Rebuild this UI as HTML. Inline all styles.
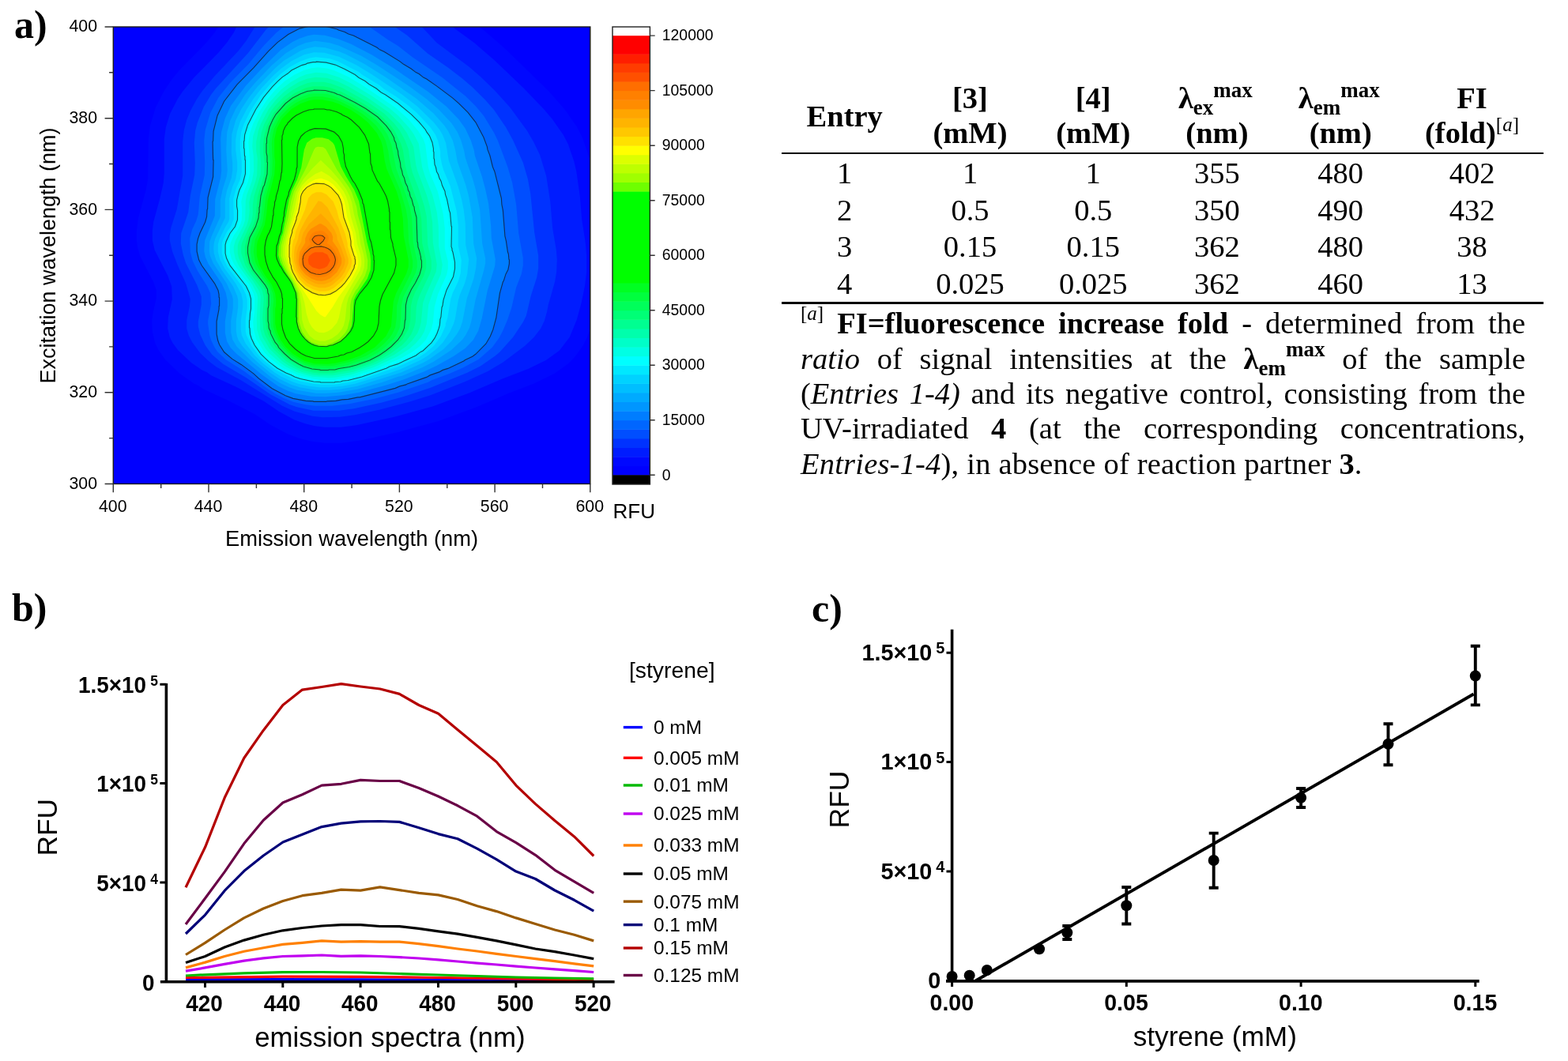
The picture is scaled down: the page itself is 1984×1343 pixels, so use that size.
<!DOCTYPE html>
<html><head><meta charset="utf-8"><title>Figure</title>
<style>
html,body{margin:0;padding:0;background:#fff;}
body{width:1984px;height:1343px;position:relative;overflow:hidden;}
svg{position:absolute;left:0;top:0;}
svg text{font-family:'Liberation Sans', Arial, sans-serif;fill:#000;}
svg text.sf{font-family:'Liberation Serif', 'Times New Roman', serif;}
.tb{position:absolute;}
.fn{position:absolute;left:1013px;width:917px;font-family:'Liberation Serif', 'Times New Roman', serif;font-size:38.5px;line-height:0;white-space:nowrap;color:#000;}
.fn.j{text-align:justify;text-align-last:justify;white-space:normal;}
.fn .sup{font-size:25px;position:relative;top:-17px;}
.fn .sub{font-size:27px;position:relative;top:8px;}
.fn .sup2{font-size:27px;position:relative;top:-16px;}
</style></head><body>
<svg width="1984" height="1343" viewBox="0 0 1984 1343">
<defs><clipPath id="pc"><rect x="143.3" y="34.0" width="603.5" height="578.5"/></clipPath></defs>
<g clip-path="url(#pc)"><rect x="143" y="34" width="604" height="579" fill="#0000ff"/>
<path fill="#0008ff" fill-rule="evenodd" d="M293.8 0.2 283.8 18.8 278.8 30.8 271.2 41.8 260.8 54.2 226.2 89.8 217.2 100.8 207.8 114.8 196.8 136.2 189.8 159.8 187.8 175.8 187.2 226.2 184.8 239.8 174.8 276.8 172.8 292.2 172.8 304.2 174.2 313.8 177.2 324.2 193.8 356.2 197.8 367.2 197.8 377.2 193.8 394.8 192.2 405.8 192.8 419.8 196.2 434.2 201.2 444.2 209.2 455.2 227.2 472.8 245.8 485.8 251.2 488.2 256.8 492.2 291.2 508.2 323.2 524.8 342.2 537.8 364.8 549.8 380.2 555.2 394.2 558.8 410.8 560.8 431.8 560.8 454.8 557.8 502.8 547.2 554.2 533.2 601.8 515.8 643.8 497.8 676.2 485.2 701.8 472.8 719.8 459.8 728.2 450.8 737.8 437.2 742.8 427.2 748.8 410.8 755.2 386.8 759.8 364.8 762.2 344.2 761.8 316.8 756.2 277.8 754.2 252.2 749.2 215.2 746.2 201.2 737.2 174.8 729.8 160.2 714.8 138.8 694.2 115.2 638.2 60.8 612.2 38.2 590.2 22.8 585.8 18.2 579.2 6.8 574.2 0.2Z"/>
<path fill="#001cff" fill-rule="evenodd" d="M318.8 1.2 308.2 14.2 295.8 41.2 287.2 53.8 276.8 66.2 245.8 97.8 230.8 116.2 224.8 125.2 215.2 143.8 209.8 161.2 207.8 175.8 207.8 218.8 206.8 231.2 202.2 251.8 194.2 280.8 192.8 292.2 192.8 304.2 195.8 316.8 212.2 348.8 217.2 362.8 217.8 378.8 212.8 401.8 212.2 415.8 214.8 426.8 218.2 433.8 225.2 443.2 242.2 459.2 256.2 468.8 261.8 471.2 267.2 475.2 298.8 489.8 333.8 507.8 352.8 520.8 372.2 531.2 386.2 536.2 398.2 539.2 410.8 540.8 431.8 540.8 450.8 538.2 498.8 527.8 548.2 514.2 594.2 497.2 636.2 479.2 668.8 466.8 691.2 455.8 707.8 443.8 720.8 426.8 729.8 404.8 735.8 382.8 740.2 360.8 742.2 344.2 742.2 323.8 740.8 307.2 736.2 277.8 733.8 248.2 729.2 216.2 726.2 203.8 718.8 182.2 712.8 170.8 698.8 150.8 688.2 138.2 662.8 111.8 626.2 76.8 600.2 54.2 574.8 35.8 568.2 28.2 558.2 11.8 545.8 0.2 320.2 0.2Z"/>
<path fill="#0032ff" fill-rule="evenodd" d="M348.8 0.2 345.2 7.2 340.8 13.2 326.8 27.2 311.8 51.2 301.8 64.2 271.2 96.8 256.2 114.8 248.8 125.8 241.2 139.8 236.2 151.8 232.8 164.8 231.2 178.8 231.2 222.2 223.8 264.8 216.2 288.8 214.8 297.2 214.8 304.2 218.2 318.8 224.8 335.8 235.2 358.8 240.8 378.8 239.8 388.2 236.2 405.2 236.2 415.8 238.8 424.8 243.2 433.2 253.2 446.8 264.2 457.2 274.2 464.8 304.8 481.2 357.2 513.8 372.8 520.8 395.2 526.8 408.2 528.2 430.2 527.8 448.8 525.2 479.8 518.8 519.2 508.2 544.8 500.2 588.2 483.2 617.8 469.8 636.2 458.8 664.2 437.8 675.8 426.8 684.2 415.8 688.8 406.2 692.2 394.2 693.8 385.8 702.2 356.2 704.2 343.8 704.8 328.2 703.8 316.2 699.2 289.2 696.2 254.8 691.2 222.8 683.2 196.2 675.2 179.8 666.8 165.2 645.2 135.8 626.2 114.8 608.2 97.2 593.8 84.8 552.8 54.2 530.8 30.8 521.2 23.8 515.2 17.8 510.2 11.2 504.8 0.2Z"/>
<path fill="#004eff" fill-rule="evenodd" d="M377.2 0.2 336.8 37.2 313.8 67.2 272.8 112.2 266.8 120.2 257.8 135.2 249.8 155.2 247.2 165.2 245.8 180.8 246.8 206.8 246.2 221.2 240.8 247.8 238.2 268.8 229.2 295.2 228.8 308.2 231.8 322.8 235.2 333.2 249.2 360.8 254.8 375.2 254.8 385.8 250.8 406.8 250.8 413.2 253.2 423.2 259.8 437.2 268.2 448.8 282.2 460.8 311.8 478.2 342.2 499.2 366.8 512.2 375.8 515.2 396.8 519.8 429.2 519.8 447.8 517.2 482.2 509.8 514.8 500.8 544.8 490.8 591.2 471.8 608.2 463.2 626.2 450.8 632.2 445.8 649.2 426.8 661.8 407.8 665.8 399.8 671.8 374.2 679.2 351.2 681.2 339.8 681.2 323.8 676.2 294.2 671.2 244.8 667.8 226.2 661.8 205.8 649.2 177.8 640.2 161.2 625.2 139.2 613.8 126.2 598.2 110.8 584.8 99.2 567.2 85.8 541.2 67.8 515.2 44.8 500.2 34.2 478.2 13.8 466.2 0.2Z"/>
<path fill="#0066ff" fill-rule="evenodd" d="M430.2 12.8 410.2 12.8 393.8 15.8 374.2 24.2 357.2 35.2 349.8 41.2 334.2 57.2 313.8 81.8 290.8 105.2 276.2 123.8 266.2 142.8 259.8 164.2 258.2 178.2 259.2 205.2 258.8 221.8 252.8 248.2 250.8 271.2 248.2 279.8 243.2 290.2 240.2 301.8 240.8 319.2 243.8 330.2 250.2 343.2 262.2 362.2 266.2 371.2 267.2 384.2 263.2 405.8 263.2 410.2 265.2 424.2 267.2 430.8 271.2 439.2 275.2 445.2 285.8 455.2 308.8 469.8 338.8 492.2 349.2 498.8 359.8 504.2 371.2 508.8 386.8 512.2 398.8 513.8 419.8 513.8 441.8 511.2 473.8 504.8 503.8 496.8 541.8 483.8 546.2 481.2 569.2 472.8 586.2 465.2 605.8 454.8 622.8 439.8 631.8 427.2 636.2 418.8 642.2 404.8 647.2 389.8 653.2 363.8 659.8 346.8 661.8 336.2 661.8 326.2 656.2 295.2 653.2 259.2 648.2 231.2 642.2 210.8 629.8 177.8 625.2 168.2 612.2 146.8 601.8 134.2 589.2 121.8 559.8 98.2 521.8 72.2 503.2 57.8 490.8 50.2 470.8 36.2 444.8 19.8 433.2 13.2Z"/>
<path fill="#007dff" fill-rule="evenodd" d="M395.2 32.2 379.2 36.2 364.8 43.8 351.2 53.8 339.8 64.8 320.8 86.2 300.2 106.8 283.8 128.2 275.2 146.2 270.2 166.2 269.2 179.2 270.2 202.8 269.8 223.8 263.2 250.2 261.8 274.2 259.8 281.2 250.8 301.8 249.2 309.2 249.2 318.2 251.8 328.8 255.2 335.8 271.8 358.8 276.2 367.8 277.8 376.8 277.8 387.2 274.2 406.8 274.2 422.8 277.8 436.2 283.8 445.8 293.8 454.2 305.2 461.2 320.8 472.8 344.2 491.8 361.2 500.8 370.8 504.2 386.8 507.2 396.8 508.2 413.2 508.2 455.2 502.8 500.2 491.2 539.8 477.2 544.2 474.8 566.8 466.2 587.2 456.8 601.8 448.2 614.8 435.2 619.2 427.8 623.8 417.2 627.8 401.8 632.2 371.2 636.2 356.8 642.8 341.2 644.2 328.8 638.8 298.8 634.2 251.2 625.8 217.2 623.2 211.2 616.2 185.8 611.8 173.8 601.8 154.8 591.8 142.2 572.8 124.2 552.8 109.2 505.8 77.8 476.8 60.2 447.2 45.2 426.8 37.2 409.2 32.8Z"/>
<path fill="#0096ff" fill-rule="evenodd" d="M397.2 43.8 389.2 45.2 378.8 48.8 369.8 53.2 355.2 63.2 331.2 86.8 310.8 108.8 292.2 133.8 284.8 149.8 280.2 166.8 279.2 175.8 280.2 216.2 279.2 224.8 272.2 252.2 271.8 273.2 259.2 304.2 258.2 317.2 259.8 325.2 263.8 334.2 280.8 359.2 285.8 370.8 287.8 380.8 287.8 388.8 284.8 406.8 284.8 421.2 287.2 432.2 291.8 440.2 299.2 447.8 330.8 473.8 351.8 488.8 364.2 494.8 374.2 498.2 393.8 501.8 411.8 502.2 434.2 500.2 454.2 496.8 487.8 487.8 509.8 480.8 536.8 470.2 552.8 462.8 574.2 450.8 588.8 440.8 598.8 430.2 605.2 418.8 609.8 402.8 616.8 367.8 626.2 336.8 626.8 328.2 621.8 301.2 621.2 286.2 618.2 258.2 614.2 239.8 609.8 223.2 600.8 196.8 599.8 190.2 595.8 177.8 588.8 162.8 580.2 150.8 564.8 134.8 541.2 115.8 497.2 85.8 470.2 69.2 444.2 55.8 427.8 49.2 411.2 44.8Z"/>
<path fill="#00aaff" fill-rule="evenodd" d="M399.2 51.8 386.8 54.2 376.8 58.2 361.8 67.2 343.8 82.8 322.8 104.8 310.2 119.8 298.2 137.8 291.2 152.8 287.2 167.8 286.2 189.2 287.8 215.8 286.8 223.2 281.8 239.2 278.8 253.2 278.8 274.2 267.8 298.8 265.2 306.2 264.8 317.8 265.8 323.8 269.8 333.2 286.8 358.8 293.8 374.2 294.8 378.8 294.8 390.2 292.2 406.2 292.2 420.8 294.2 429.8 299.2 438.2 319.2 458.2 343.2 477.8 354.2 484.8 365.8 490.2 375.8 493.8 399.8 497.8 412.8 497.8 427.8 496.8 452.2 492.8 484.2 483.8 503.8 476.8 508.8 475.8 534.2 465.2 548.8 457.8 570.8 443.2 584.8 430.2 589.2 424.2 593.8 415.2 596.2 407.2 601.8 378.8 612.2 342.2 614.2 333.2 614.2 327.2 610.2 308.2 607.2 265.8 602.2 241.2 598.2 226.8 588.8 199.8 587.2 190.8 583.2 177.2 578.8 167.2 571.2 155.8 554.8 138.2 540.2 125.8 517.2 108.8 476.8 82.2 457.2 70.8 428.8 57.8 417.2 54.2Z"/>
<path fill="#00beff" fill-rule="evenodd" d="M398.2 59.2 388.2 61.2 380.2 64.2 359.2 76.8 348.2 86.2 326.2 109.2 314.8 123.8 305.2 138.2 298.2 152.2 293.2 170.2 292.8 193.8 294.2 206.2 294.2 215.8 292.8 225.2 287.2 240.8 284.8 252.2 284.8 275.8 272.2 302.2 270.8 307.8 270.2 314.8 270.8 320.8 273.2 328.8 280.8 342.2 294.8 362.2 300.2 374.8 301.2 379.2 301.2 389.2 298.8 406.2 298.8 418.8 299.8 425.2 301.8 430.8 306.8 438.2 318.2 451.2 327.8 460.2 341.8 471.8 353.8 479.8 368.2 486.8 379.2 490.2 400.2 493.8 417.2 493.8 429.8 492.8 452.2 488.8 506.8 471.8 535.2 459.2 543.2 454.8 560.8 442.2 571.8 431.2 578.2 422.8 582.2 415.8 585.2 406.8 590.8 377.8 599.2 353.2 602.2 339.2 603.2 327.2 599.2 308.8 597.8 275.2 593.2 248.8 589.2 233.8 578.8 204.8 576.2 190.2 572.8 177.8 567.2 166.2 562.2 158.8 548.8 143.8 526.8 124.8 488.8 98.2 460.8 80.8 437.8 68.8 429.2 65.2 411.2 60.2Z"/>
<path fill="#00d2ff" fill-rule="evenodd" d="M397.2 66.2 384.8 69.2 368.8 77.2 355.8 86.8 345.8 95.8 331.2 111.2 320.8 124.8 311.8 138.8 303.8 154.2 299.8 166.8 298.2 177.2 298.2 189.2 300.2 205.8 300.2 215.2 298.2 226.8 294.2 236.2 290.2 251.2 290.2 277.2 289.2 280.8 284.8 287.8 277.8 302.2 275.8 309.2 275.8 318.8 278.2 328.2 284.2 339.8 298.2 358.8 305.2 371.8 307.2 380.8 307.2 388.8 304.8 406.2 304.8 417.2 305.8 424.2 310.8 434.8 322.2 449.8 333.2 460.2 347.2 471.2 355.2 476.2 368.8 482.8 377.2 485.8 391.2 488.8 404.2 490.2 416.2 490.2 433.2 488.8 449.2 485.8 492.8 472.2 506.8 467.2 532.2 455.8 541.2 450.2 552.2 441.8 560.2 433.8 569.2 420.2 573.8 410.2 575.8 403.8 579.8 380.2 581.8 373.2 588.2 358.2 591.2 347.2 593.2 328.2 589.2 309.8 588.8 283.2 586.8 265.8 583.8 251.2 579.8 236.2 567.8 203.2 564.2 181.2 559.8 170.2 556.2 164.2 549.2 155.2 528.2 134.8 508.8 119.8 469.8 93.8 450.8 82.2 428.8 71.8 410.2 66.8Z"/>
<path fill="#00e8ff" fill-rule="evenodd" d="M399.8 72.2 390.8 73.8 379.8 77.8 366.8 84.8 354.2 94.2 341.2 107.2 328.8 122.2 316.2 141.8 308.8 156.8 305.2 167.2 303.8 177.8 303.8 188.8 305.8 204.2 305.8 217.8 303.8 227.2 298.8 238.8 295.2 251.8 295.8 277.2 292.2 286.8 287.2 293.2 282.2 303.8 280.8 308.8 280.8 320.2 282.8 327.8 287.8 337.8 306.2 362.2 311.2 372.8 312.8 379.8 312.8 389.8 310.8 404.2 310.8 419.2 311.8 424.2 318.2 437.8 327.2 449.8 334.2 456.8 348.8 468.2 371.2 479.8 378.8 482.2 395.2 485.8 404.8 486.8 423.8 486.8 440.8 484.2 458.8 479.8 503.8 464.2 529.8 452.2 538.2 446.8 548.8 437.8 557.8 425.8 563.8 412.2 563.8 409.8 566.2 402.8 570.2 378.8 572.8 370.8 579.8 356.2 582.8 345.8 583.8 329.2 579.8 311.2 579.8 285.2 577.8 267.2 569.8 235.8 561.2 215.2 558.8 206.8 557.2 198.2 557.2 191.8 554.2 178.2 550.8 170.2 544.2 160.8 527.8 143.2 516.8 133.8 501.2 122.2 485.2 112.2 480.8 108.2 457.8 94.2 454.2 91.2 426.8 77.2 417.2 74.2Z"/>
<path fill="#00ffff" fill-rule="evenodd" d="M400.2 78.2 388.8 80.2 368.8 89.2 351.2 103.2 344.8 109.8 333.8 123.2 323.8 138.8 313.8 158.2 309.8 170.8 308.8 178.8 308.8 187.8 310.8 202.8 310.8 219.8 308.8 228.2 303.2 240.2 299.8 253.2 300.8 278.2 297.8 286.8 291.2 295.2 286.2 305.8 285.2 309.8 285.2 320.8 286.8 326.8 291.2 336.2 311.8 362.2 315.8 370.8 317.8 378.2 317.8 391.2 315.8 405.8 316.8 422.8 318.2 428.2 322.2 436.8 330.2 448.2 340.2 457.8 350.8 465.8 372.8 476.8 380.2 479.2 396.8 482.8 405.8 483.8 423.2 483.8 440.2 481.2 457.8 476.8 502.8 460.8 526.2 449.8 535.2 443.8 540.8 438.8 549.8 428.2 555.2 415.2 560.8 379.8 564.8 367.2 573.2 350.2 575.2 340.2 575.2 331.8 570.8 312.2 571.2 286.8 569.2 269.2 562.8 242.2 552.2 217.2 549.8 208.2 548.8 192.2 546.8 180.2 543.2 171.8 538.2 164.2 520.2 144.8 503.8 131.2 449.2 94.8 424.2 82.2 415.8 79.8Z"/>
<path fill="#00ffe4" fill-rule="evenodd" d="M402.2 85.2 393.8 86.2 383.8 89.2 372.2 94.8 360.2 102.8 349.2 112.8 338.2 125.8 327.8 141.8 320.2 156.8 316.2 168.2 314.2 180.2 316.2 201.8 316.2 219.2 313.8 229.8 307.2 246.2 305.2 255.2 306.2 265.2 305.8 278.2 304.2 283.8 300.2 291.8 295.8 297.8 291.8 307.2 290.8 311.2 290.8 319.2 292.8 327.2 296.2 334.8 306.2 349.2 315.2 360.2 320.8 371.2 322.2 377.2 321.8 396.2 320.2 407.2 320.8 416.8 323.8 428.8 334.2 445.8 338.8 450.8 353.2 462.8 359.8 466.8 376.8 474.8 397.8 479.8 406.8 480.8 422.2 480.8 447.8 476.2 476.8 466.8 506.8 453.8 521.2 445.8 531.8 437.8 538.8 430.2 545.8 416.8 547.8 408.8 549.8 388.2 554.2 372.2 565.2 347.8 566.8 340.2 566.8 330.8 562.8 314.2 562.8 289.2 560.8 270.8 553.8 242.2 544.2 219.8 541.8 211.2 538.2 183.2 535.8 176.2 529.2 165.8 517.2 151.2 499.8 135.8 459.2 108.2 440.8 97.2 423.2 89.2 414.8 86.8Z"/>
<path fill="#00ffc8" fill-rule="evenodd" d="M399.8 91.8 387.2 94.2 379.8 97.2 368.2 103.8 355.8 113.2 340.8 129.8 332.8 141.8 325.8 155.8 320.2 172.2 319.2 185.2 320.8 197.8 321.2 216.2 318.8 229.2 312.2 246.8 310.8 254.2 310.2 278.2 307.8 285.8 297.8 304.8 295.8 312.2 295.8 318.2 297.8 327.2 302.2 336.8 319.2 360.2 325.2 372.2 326.2 376.8 324.8 402.8 325.2 417.2 328.8 429.2 336.2 441.8 341.2 447.8 355.2 459.8 361.8 464.2 375.8 471.2 395.2 476.8 415.8 478.2 423.8 477.8 443.8 474.2 472.2 465.2 501.8 451.8 517.8 441.8 525.8 434.8 532.8 426.8 536.8 419.8 539.8 409.8 542.2 385.8 548.2 368.2 557.8 347.2 559.8 335.2 555.2 311.8 554.8 286.2 552.8 268.8 547.2 246.8 537.8 223.2 534.2 211.8 529.8 181.8 523.8 170.2 518.2 162.2 504.2 146.8 493.2 137.2 470.2 121.2 443.8 105.2 428.8 97.8 413.2 92.8Z"/>
<path fill="#00ffac" fill-rule="evenodd" d="M399.2 97.8 388.2 99.8 378.2 103.8 365.8 111.2 358.2 117.2 349.2 126.2 339.8 138.2 329.8 157.2 326.8 165.8 324.2 179.2 324.2 190.8 325.8 200.8 325.2 221.2 323.2 229.8 316.8 248.2 315.2 256.8 315.8 266.8 314.2 279.2 312.2 285.2 301.8 307.2 300.8 310.8 300.8 320.8 302.2 326.8 307.2 337.8 312.2 345.8 320.2 355.8 328.2 368.8 329.8 375.2 328.8 398.2 329.2 416.8 331.8 425.8 340.8 441.2 357.2 457.2 365.2 462.8 381.8 470.8 395.8 474.2 403.8 475.2 421.2 475.2 446.8 470.8 475.8 460.8 499.2 448.8 514.2 438.2 521.2 431.2 528.2 421.8 531.2 414.2 532.8 407.8 535.2 383.2 538.8 373.2 551.8 343.8 552.8 334.8 547.8 307.2 547.2 281.8 543.8 260.8 539.8 246.8 528.2 216.2 526.2 208.2 523.2 185.8 514.8 168.2 506.8 157.2 491.8 142.2 465.2 123.8 441.2 109.8 427.8 103.2 413.8 98.8Z"/>
<path fill="#00ff91" fill-rule="evenodd" d="M395.8 103.8 388.8 105.2 379.8 108.8 369.8 114.2 359.2 122.2 347.8 134.2 343.2 140.2 334.2 157.2 330.8 167.8 328.8 179.8 328.8 193.2 330.2 205.8 329.8 220.8 321.2 249.2 319.8 260.2 319.8 271.2 318.2 280.2 306.2 307.2 305.2 311.8 305.2 320.2 310.2 335.8 316.2 345.8 330.2 364.8 332.2 369.2 333.8 377.2 332.2 402.2 333.2 416.8 335.2 423.8 342.8 437.8 346.8 442.8 362.2 457.2 376.8 465.8 384.2 468.8 396.2 471.8 403.8 472.8 420.2 472.8 447.8 467.8 471.2 459.8 484.8 453.2 494.8 447.2 508.8 436.8 514.2 431.2 520.2 423.2 524.2 413.8 525.8 407.2 526.8 388.8 528.2 381.8 531.2 373.2 543.8 346.8 545.8 340.2 545.8 329.8 541.2 309.8 539.8 274.2 536.8 260.8 529.8 238.8 521.8 218.2 519.8 210.2 516.8 188.8 512.8 178.2 505.8 165.2 498.8 156.2 486.2 143.8 466.2 129.8 433.2 111.2 418.8 105.8 409.8 103.8Z"/>
<path fill="#00ff76" fill-rule="evenodd" d="M395.8 109.2 386.8 111.2 372.8 117.8 359.2 127.8 346.2 142.8 337.8 159.2 334.8 169.2 333.2 180.2 333.2 194.2 334.8 206.8 333.8 222.2 325.8 249.2 323.2 276.2 320.2 285.8 312.2 301.8 309.8 311.8 309.8 321.2 312.2 331.2 318.2 343.2 328.2 355.8 335.2 366.8 337.2 375.2 335.8 404.2 336.8 414.8 339.2 423.2 345.8 435.8 350.2 441.8 363.8 454.8 383.2 465.8 393.8 468.8 404.2 470.2 424.8 469.8 448.8 464.8 469.2 457.8 482.2 451.2 493.8 443.8 509.2 429.8 516.8 416.8 519.2 405.8 519.8 387.8 521.8 378.8 525.2 370.2 536.2 349.2 539.2 339.8 539.2 329.2 534.2 307.8 533.2 277.2 529.8 259.8 515.2 219.2 512.8 209.2 509.8 189.8 507.2 181.8 499.2 165.2 492.2 156.2 480.2 144.8 464.2 133.8 449.8 125.2 431.2 115.8 417.2 110.8 409.2 109.2Z"/>
<path fill="#00ff5a" fill-rule="evenodd" d="M397.2 114.2 388.8 115.8 379.8 119.2 370.2 124.2 361.2 131.2 349.2 144.8 341.2 160.8 337.8 175.2 337.2 193.2 338.8 205.8 338.2 220.2 330.2 247.8 327.2 275.8 323.8 286.8 316.2 300.8 313.8 312.8 313.8 320.2 316.2 332.8 320.8 341.8 335.8 360.8 338.8 366.2 340.2 373.2 340.2 386.8 339.2 390.8 339.2 406.2 340.2 413.8 342.8 422.2 348.2 433.2 351.8 437.2 352.8 439.8 368.2 454.8 384.2 463.8 394.8 466.8 405.2 468.2 423.8 467.8 447.8 462.8 467.8 455.8 480.2 449.2 495.2 438.2 505.2 427.8 510.2 418.8 512.8 404.8 513.2 385.8 515.2 377.2 520.2 366.2 530.8 347.2 533.2 338.2 533.2 330.2 527.8 306.2 526.8 275.2 523.8 261.8 509.2 221.2 500.8 181.2 494.2 166.8 488.2 158.8 477.8 148.2 462.8 137.8 448.8 129.8 423.2 117.8 411.8 114.8Z"/>
<path fill="#00ff3e" fill-rule="evenodd" d="M397.2 118.2 390.2 119.2 380.8 122.8 372.2 127.2 362.8 134.2 351.8 146.2 344.2 161.2 341.8 170.8 340.2 182.8 340.2 192.2 341.8 204.8 341.2 220.2 332.8 251.2 330.2 276.2 328.2 284.2 319.2 302.8 317.2 313.2 317.2 319.8 319.2 331.2 323.2 340.2 338.8 361.2 341.8 368.2 343.2 381.2 342.2 390.8 342.8 412.8 346.2 423.8 354.8 438.8 369.2 452.8 385.2 461.8 398.8 465.2 415.8 465.8 423.2 465.2 440.8 461.8 464.2 453.8 478.2 446.2 488.2 438.8 498.8 428.2 501.2 424.8 505.8 414.8 507.2 403.8 507.8 387.2 510.2 376.2 525.8 345.8 527.8 338.2 527.8 330.2 522.8 307.2 521.2 276.2 518.8 263.2 513.2 245.2 501.2 213.2 495.2 182.8 490.2 170.2 483.8 160.8 475.8 152.2 462.8 142.2 447.2 132.8 422.2 121.2 412.8 118.8Z"/>
<path fill="#00ff22" fill-rule="evenodd" d="M397.2 122.2 390.8 123.2 382.2 126.2 374.2 130.2 365.8 136.2 354.2 148.2 346.8 163.2 344.8 171.8 343.8 181.8 344.8 203.8 344.2 220.8 336.2 249.8 332.8 279.2 331.2 285.2 322.8 303.2 320.8 318.8 322.8 330.8 324.8 335.8 331.8 347.8 341.2 360.8 345.2 371.2 346.2 380.8 345.2 390.8 345.8 412.8 347.8 420.2 352.8 431.2 356.8 437.2 367.2 448.2 380.2 456.8 385.2 459.2 395.8 462.2 415.2 463.2 422.2 462.8 442.2 458.2 462.8 450.8 477.2 442.2 485.8 435.2 492.8 427.8 496.2 422.8 500.2 414.2 501.8 402.8 502.2 386.8 505.8 373.8 520.2 345.2 522.2 337.8 522.2 330.2 517.2 306.2 515.8 277.8 513.8 265.8 506.2 240.2 496.2 216.8 492.8 202.8 491.2 190.8 487.8 177.8 482.8 168.2 475.8 158.8 468.2 151.8 458.8 144.2 445.2 135.8 430.2 128.2 420.8 124.8 407.8 122.2Z"/>
<path fill="#00ff00" fill-rule="evenodd" d="M397.2 126.2 391.2 127.2 380.2 131.2 369.2 137.8 356.8 150.2 350.2 162.8 347.2 176.2 347.2 197.2 348.2 205.8 347.2 220.8 338.8 253.8 337.2 270.8 334.8 284.8 325.8 305.8 324.8 311.2 324.8 323.2 328.2 335.8 335.2 348.2 343.8 360.2 348.2 371.8 349.2 380.2 349.2 386.8 348.2 390.8 348.2 409.8 350.2 418.8 354.8 429.8 360.8 438.2 369.8 447.2 385.2 456.8 397.8 460.2 414.8 460.8 423.8 459.8 438.8 456.2 455.8 450.2 474.2 439.8 488.2 425.8 494.8 413.2 497.8 381.2 501.2 371.2 514.2 346.2 516.8 337.8 516.8 328.8 510.8 298.8 509.8 276.8 506.8 258.8 501.8 242.2 489.2 213.8 486.8 203.8 484.2 185.8 482.2 178.8 476.8 168.2 465.8 155.2 456.2 147.2 444.2 139.2 429.2 131.8 420.8 128.8 407.8 126.2Z"/>
<path fill="#6eff00" fill-rule="evenodd" d="M399.8 174.2 394.8 175.8 388.2 180.8 384.8 189.8 381.2 212.2 375.8 227.8 369.2 241.2 365.8 252.2 357.8 295.2 355.8 299.8 352.8 312.2 352.2 322.8 354.8 332.2 360.8 343.8 369.2 356.8 375.2 370.8 376.2 378.2 376.2 407.2 377.8 415.2 380.2 420.8 386.2 428.8 393.8 434.8 402.8 437.8 413.2 438.2 421.2 436.2 430.8 431.8 435.8 427.2 441.8 419.8 445.2 412.2 447.8 379.8 450.8 373.2 464.8 352.8 468.8 341.2 469.2 329.8 468.2 321.2 464.2 305.8 454.2 254.8 448.2 240.2 437.8 223.2 431.2 210.8 423.2 183.8 421.2 180.8 415.8 176.2 407.8 174.2Z"/>
<path fill="#a0ff00" fill-rule="evenodd" d="M402.2 185.8 399.2 186.8 397.2 189.8 387.8 211.8 371.8 242.2 368.2 254.8 364.8 275.2 355.8 310.8 355.2 323.8 358.2 334.2 364.8 347.2 370.2 355.8 376.8 370.8 377.8 377.8 378.2 406.2 382.2 419.8 387.8 427.8 394.2 433.2 403.2 436.2 412.2 436.8 420.2 434.2 429.2 429.2 436.8 421.2 439.8 415.8 442.8 403.2 443.2 385.8 444.8 378.2 450.2 367.2 452.2 365.2 461.8 349.2 464.8 339.8 465.2 329.8 456.8 286.8 452.8 272.2 451.2 261.8 445.2 243.8 441.8 237.2 426.2 214.8 412.2 188.8 408.8 186.2Z"/>
<path fill="#beff00" fill-rule="evenodd" d="M405.8 202.8 395.2 213.2 384.2 226.2 374.2 243.2 367.8 271.2 367.8 274.2 358.2 311.8 358.2 325.8 363.2 340.2 374.2 360.2 379.2 372.2 381.2 386.8 382.2 404.8 384.8 414.2 391.8 425.2 397.8 429.8 404.8 431.8 411.2 431.8 420.2 428.2 427.2 423.2 431.8 417.8 434.8 412.2 436.8 404.2 438.8 384.8 440.8 377.2 446.2 366.2 458.2 346.8 460.8 338.8 461.2 329.8 460.2 322.2 456.2 308.8 453.8 292.2 447.8 270.8 445.2 256.2 442.2 247.8 438.2 239.8 429.2 227.2 418.8 215.2Z"/>
<path fill="#dcff00" fill-rule="evenodd" d="M406.8 216.8 398.8 220.2 389.2 227.2 382.2 234.8 376.8 244.2 372.2 267.2 362.8 301.2 360.8 314.2 360.8 323.2 365.2 340.2 381.8 371.2 385.2 382.8 387.8 397.2 391.2 408.2 394.8 414.2 399.2 418.8 403.2 420.8 409.8 421.2 415.2 419.2 419.8 416.2 426.2 408.8 428.8 402.2 432.2 385.8 435.8 376.2 455.2 342.8 457.2 335.2 457.2 329.8 456.2 322.8 451.8 308.2 450.2 295.2 443.8 273.8 441.2 258.8 438.2 249.2 434.8 242.2 425.8 230.8 416.2 222.2Z"/>
<path fill="#ffff00" fill-rule="evenodd" d="M406.2 225.8 398.8 227.2 389.8 232.2 383.8 237.8 379.2 245.2 376.2 263.2 365.2 301.2 363.8 309.8 363.8 326.2 365.2 333.8 367.2 337.8 367.2 340.2 374.8 355.2 385.2 369.8 400.2 393.2 405.2 398.2 410.2 401.2 411.8 401.2 420.8 388.8 428.2 376.2 443.8 355.2 451.8 340.2 453.2 334.8 453.2 329.8 452.2 323.8 447.8 309.8 447.8 304.8 445.8 293.8 439.2 274.8 436.2 256.8 434.2 250.8 429.8 242.8 421.8 233.8 414.8 228.8Z"/>
<path fill="#ffe100" fill-rule="evenodd" d="M399.8 232.2 395.8 233.2 388.2 237.2 381.8 245.8 377.8 268.8 369.8 291.8 367.2 302.2 366.2 309.8 366.2 325.8 367.2 333.2 370.8 344.8 376.2 354.8 385.8 364.8 395.2 370.2 402.8 372.8 410.8 373.2 418.2 371.8 424.8 368.2 432.2 362.2 442.8 348.8 447.8 339.2 449.2 334.2 449.2 328.2 443.8 310.8 443.8 305.2 441.8 294.2 434.8 275.2 432.2 258.2 427.8 247.2 419.2 237.8 409.8 232.8Z"/>
<path fill="#ffc800" fill-rule="evenodd" d="M400.2 243.2 394.8 245.8 390.2 250.8 385.8 265.8 374.2 292.8 372.8 301.2 371.2 303.8 369.8 310.8 368.8 324.2 371.8 340.2 378.8 353.2 386.8 361.2 395.8 366.2 404.2 368.8 411.8 368.8 416.2 367.8 422.2 364.8 432.8 355.8 437.2 350.2 443.8 338.2 445.2 333.2 445.2 329.2 439.8 311.8 439.8 308.2 436.8 295.8 428.8 276.2 426.2 266.2 421.8 255.2 413.2 246.2 406.8 243.2Z"/>
<path fill="#ffb400" fill-rule="evenodd" d="M402.8 254.2 386.8 278.2 380.2 290.8 377.8 297.8 377.2 302.2 373.2 312.8 372.2 318.8 372.2 330.2 375.8 342.8 381.2 351.2 388.8 358.2 396.8 362.2 403.8 364.2 411.2 364.2 416.8 362.8 421.2 360.2 431.8 350.8 436.2 344.2 440.8 333.2 440.8 327.8 428.2 288.2 414.2 262.2 406.8 255.2Z"/>
<path fill="#ffa500" fill-rule="evenodd" d="M405.8 270.2 390.8 283.8 383.8 294.8 381.8 300.8 381.2 305.8 377.2 313.2 375.2 320.8 375.2 332.2 378.2 341.8 383.8 349.2 388.8 353.8 398.8 358.8 403.2 359.8 410.2 359.8 418.8 356.8 427.8 349.2 434.2 339.2 436.2 334.2 436.8 328.8 432.2 314.8 426.8 303.2 426.2 297.8 423.2 290.8 416.2 280.8Z"/>
<path fill="#ff8c00" fill-rule="evenodd" d="M404.2 283.2 393.2 289.8 389.2 294.8 386.2 301.8 386.2 307.2 379.2 318.8 377.8 330.2 378.8 336.2 381.2 341.2 386.8 347.8 394.2 352.8 401.2 355.2 406.8 355.8 412.2 354.8 417.8 352.2 426.2 344.8 431.2 335.8 432.2 332.8 432.2 327.2 427.8 315.2 420.8 305.2 421.2 299.8 419.2 294.8 412.2 286.8 406.2 283.2Z"/>
<path fill="#ff8000" fill-rule="evenodd" d="M406.2 291.8 398.8 293.2 395.2 295.2 393.2 297.8 390.8 302.8 392.8 308.8 383.8 317.8 381.8 321.8 380.8 326.8 381.2 335.2 385.2 341.8 392.8 348.2 402.2 351.2 411.2 350.2 419.8 345.8 424.2 340.8 428.2 331.8 427.8 326.2 423.2 316.2 419.2 311.8 413.8 307.8 415.8 303.2 415.8 299.8 414.8 297.8 410.2 293.2Z"/>
<path fill="#ff6e00" fill-rule="evenodd" d="M397.8 312.8 393.2 314.2 385.8 320.8 383.2 327.8 383.8 334.8 385.2 337.8 394.2 345.2 402.8 347.2 412.8 345.2 417.8 342.2 421.2 338.2 424.2 330.8 423.2 324.8 419.8 318.8 412.8 313.8 406.2 312.2ZM398.2 299.2 395.2 303.2 396.8 305.8 401.2 309.2 404.2 309.2 408.8 304.8 410.8 301.2 408.2 298.8 405.8 298.2Z"/>
<path fill="#ff5000" fill-rule="evenodd" d="M398.8 319.2 395.2 320.8 391.2 324.2 389.8 328.8 390.8 334.2 395.2 338.2 403.8 340.8 410.2 339.2 414.2 336.8 417.8 329.8 414.2 322.2 408.2 319.2Z"/>
<path fill="none" stroke="#141414" stroke-opacity="0.68" stroke-width="1.15" d="M413.2 508.4 396.8 508.4 396.2 507.9 386.8 507.4 370.8 504.4 361.2 500.8 344.2 491.8 327.2 478.9 320.8 472.9 305.2 461.4 293.8 454.4 283.7 445.8 277.6 436.2 275.6 430.8 274.1 422.8 274.1 406.8 277.1 391.2 277.1 387.8 277.6 387.2 277.6 376.8 277.1 376.2 277.1 372.8 276.1 367.8 271.6 358.8 255.1 335.8 251.6 328.8 249.1 318.2 249.1 309.2 250.6 301.8 253.1 294.8 259.6 281.2 261.6 274.2 262.1 265.2 262.6 264.8 263.1 250.2 269.6 223.8 270.1 202.8 269.6 202.2 269.1 179.2 269.6 178.8 270.1 166.2 275.1 146.2 283.6 128.2 300.1 106.8 320.6 86.2 339.6 64.8 351.2 53.6 364.8 43.6 379.2 36.1 395.2 32.1 409.2 32.6 426.8 37 428.2 38 436.2 40.5 440.8 43 447.2 45 476.8 60.1 480.8 63.1 486.2 65.6 505.8 77.6 510.2 81.1 520.2 87.1 526.2 91.6 530.2 93.6 535.8 98.1 539.8 100.1 552.8 109.1 572.8 124.1 580.8 131.1 591.9 142.2 601.9 154.8 611.9 173.8 616.4 185.8 616.9 189.2 619.9 196.8 623.4 211.2 625.9 217.2 634.4 251.2 634.9 258.8 636.4 266.2 638.9 298.8 640.4 304.8 642.4 318.8 643.4 321.8 643.9 328.2 644.4 328.8 644.4 333.8 642.9 341.2 639.9 347.2 637.4 355.2 636.4 356.8 632.4 371.2 627.9 401.8 623.8 417.2 620.3 425.8 614.8 435.2 601.8 448.3 597.8 451.3 588.2 455.8 587.2 456.8 566.8 466.4 560.2 468.4 555.8 470.9 544.2 474.9 539.8 477.4 515.2 485.9 513.8 486.9 505.8 488.9 500.2 491.4 455.2 502.9 452.8 502.9 440.8 505.4 432.8 505.9 425.2 507.4 413.8 507.9 413.2 508.4"/>
<path fill="none" stroke="#141414" stroke-opacity="0.68" stroke-width="1.15" d="M423.2 484 405.8 484 405.2 483.5 396.8 483 380.2 479.5 372.8 477 368.2 474.5 361.8 472 350.8 465.9 340.2 457.9 330.1 448.2 322.1 436.8 318.1 428.2 316.5 422.8 316 415.2 315.5 414.8 315.5 405.8 316 405.2 316.5 396.2 317.5 391.2 317.5 378.2 315.5 370.8 311.5 362.2 291.1 336.2 286.6 326.8 285.1 320.8 285.1 309.8 286.1 305.8 291.1 295.2 297.5 286.8 300.5 278.2 300.6 266.2 299.6 261.2 299.6 253.2 301.6 244.8 303.1 240.2 307.5 231.2 310.5 219.8 310.5 202.8 310 202.2 310 197.8 309.5 197.2 309.1 188.2 308.6 187.8 308.6 178.8 309.1 178.2 309.6 170.8 313.5 158.2 323.5 138.8 333.6 123.2 344.6 109.8 351.2 103.1 357.2 97.6 364.2 93.1 368.8 89.1 381.8 82.6 387.2 81.1 388.8 80.1 396.2 78.6 399.8 78.6 400.2 78.1 412.8 79.1 424.2 82.1 436.2 87.6 449.2 94.6 454.2 98.5 461.8 102.5 466.8 106.5 476.2 112 482.2 117 487.8 120 503.8 131 520.2 144.6 529.9 154.2 538.4 164.2 539.9 167.2 543.4 171.8 546.9 180.2 548.4 187.8 548.4 191.8 548.9 192.2 549 200.8 549.5 201.2 550 208.2 551.5 211.8 552.5 217.2 554.5 220.8 556 225.8 558 229.2 559.5 234.8 563 242.2 563.5 246.2 565.5 251.8 568.5 266.8 569.5 269.2 571 286.2 571.5 286.8 571 312.2 572 314.8 572 316.8 573 319.2 575.5 331.8 575.5 340.2 573.5 350.2 565 367.2 561 379.8 560 386.8 559 389.2 557.9 401.2 556.9 404.2 556.4 411.2 555.4 415.2 552.9 422.2 549.9 428.2 545.9 433.8 542.4 437.2 535.2 443.9 532.2 445.4 526.2 449.9 502.8 460.9 492.8 464 489.2 466 457.8 477 440.2 481.5 433.8 482 431.2 483 423.8 483.5 423.2 484"/>
<path fill="none" stroke="#141414" stroke-opacity="0.68" stroke-width="1.15" d="M415.8 468.5 405.2 468.5 404.8 468 394.8 467 384.2 464 378.2 461 368.2 455 359.8 447.5 352.5 439.8 351.5 437.2 348 433.2 342.5 422.2 342 418.8 340.5 416.2 340 413.8 340 410.2 339 406.2 339 390.8 340 386.8 340 373.2 339 370.8 338.5 366.2 335.5 360.8 320.5 341.8 316 332.8 313.5 320.2 313.5 312.8 316 300.8 323.5 286.8 327 275.8 327.5 269.8 328 269.2 328 262.2 328.5 261.8 330 247.8 333 236.8 334.5 234.2 338 220.2 338.5 205.8 338 205.2 338 197.8 337 193.2 337 181.8 337.5 181.2 337.5 175.2 341 160.8 345 151.8 349 144.8 361.2 131 370.2 124 379.8 119 388.8 115.5 396.8 114.5 397.2 114 411.8 114.5 423.2 117.5 427.2 119.5 429.8 120 448.8 129.5 462.8 137.5 477.8 148 488.5 158.8 494.5 166.8 498.5 174.2 499 177.2 501 181.2 502 186.8 503.5 190.8 504 196.2 506.5 206.2 507 211.8 508.5 215.8 509.5 221.2 511.5 225.2 513 231.2 515.5 236.2 516.5 240.8 518 243.2 519 248.2 521 252.2 523 260.2 524 261.8 524.5 266.2 527 275.2 528 306.2 528.5 306.8 529 312.8 530.5 316.8 532.5 325.2 532.5 327.8 533.5 330.2 533.5 338.2 531 347.2 525.5 358.2 520.5 366.2 515.5 377.2 513.5 385.8 513 404.8 512.5 405.2 511.5 415.2 508.5 422.8 503.5 430.2 495.2 438.5 488.2 444 480.2 449.5 467.8 456 451.2 462 441.8 464.5 428.8 466.5 423.8 468 416.2 468 415.8 468.5"/>
<path fill="none" stroke="#141414" stroke-opacity="0.68" stroke-width="1.15" d="M413.8 453.5 397.8 453.5 387.2 450.5 381.2 447.5 373.8 442 366.5 434.8 361.5 427.2 358 417.8 356.5 410.2 356.5 397.2 357 396.8 357 390.8 357.5 390.2 357.5 382.2 357.5 377.8 357 377.2 356.5 371.8 355 367.2 350 357.2 345.5 351.2 339.5 340.2 336.5 330.8 335 322.2 335 312.8 336.5 304.2 338.5 298.2 341 293.8 343.5 287.2 345.5 272.8 346 272.2 346 266.2 347.5 259.2 347.5 256.2 349 252.2 349.5 247.8 352 239.8 354 229.2 355 227.2 356 218.8 356.5 218.2 357 207.2 356.5 177.2 357 176.8 357 171.8 358 169.8 358.5 165.8 361 160.2 363.5 157.2 364 155.8 370.2 149.5 374.8 146 383.8 141.5 391.2 139 396.8 138.5 397.2 138 410.2 138 413.8 139 416.8 139 425.8 141.5 432.2 144.5 433.2 145.5 439.8 148.5 444.8 152 454.5 161.2 461.5 170.8 466.5 182.2 468 193.8 468.5 194.2 469 206.8 470.5 210.8 471 215.2 477.5 229.2 480 232.2 486 243.2 488.5 248.2 490.5 254.2 492.5 264.8 492.5 267.8 493 268.2 493 280.8 493.5 281.2 493.5 290.8 494 291.2 494.5 300.8 497 308.8 497 310.8 501 327.2 501 335.8 498.5 345.8 484 372.8 481.5 380.2 480 387.8 479 409.2 477 417.2 472.5 425.2 465.8 432.5 461.2 436 455.2 440 444.8 445.5 438.8 447 435.2 449 431.2 449.5 427.8 451 413.8 453.5"/>
<path fill="none" stroke="#141414" stroke-opacity="0.68" stroke-width="1.15" d="M413.2 438.7 402.8 438.2 398.2 437.2 393.8 435.2 389.8 432.7 385.8 428.8 382.3 424.8 379.8 420.8 377.3 415.2 375.3 407.2 375.3 402.2 374.8 401.2 375.3 378.2 374.8 377.8 374.3 370.8 369.4 359.2 366.4 354.2 359 344.2 355.5 337.8 354 336.2 350.5 328.2 349.5 323.8 350 311.2 351.5 307.8 353.5 298.8 355.5 294.2 357 284.2 358.5 278.8 358.5 276.2 359.5 273.2 359.5 268.8 362.5 253.2 365 246.8 365.5 243.2 372.5 226.8 375 216.8 375 214.2 376 211.2 376.1 186.2 377.6 178.8 381.1 172.2 386.2 167.6 391.8 164.6 398.2 162.6 412.2 163.1 422.8 167.1 428.4 172.2 432.9 180.2 434.4 187.8 434.5 192.8 435.5 195.8 435.5 200.8 437.5 210.8 443.5 223.8 446.5 229.2 449 232.2 453.5 240.8 458.5 253.2 459 257.2 460 258.8 468 302.8 469.5 306.2 472 318.8 472 321.2 473 324.2 473 329.2 473.5 329.8 473 341.8 470 351.2 465 359.8 455.1 371.8 450.1 380.2 448.7 387.2 448.2 405.8 446.7 413.2 443.7 419.2 437.7 426.2 430.8 432.2 421.2 436.7 417.2 437.2 413.2 438.7"/>
<path fill="none" stroke="#141414" stroke-opacity="0.68" stroke-width="1.15" d="M410.8 373.7 402.8 373.1 395.2 370.6 385.8 365 379.5 358.8 376.1 354.8 370.6 344.8 368.5 339.2 368.5 336.8 367 333.2 366.5 326.2 366 325.8 366.1 309.8 366.5 309.2 367.1 302.2 369.6 294.2 369.6 291.8 373.6 281.8 375.1 277.2 375.1 275.2 377.6 268.8 380.1 255.8 380.6 248.8 381.6 245.8 383.6 242.2 388.2 237.1 395.8 233.1 399.8 232.1 409.8 232.6 415.2 235.1 419.2 237.6 427.9 247.2 430.4 252.2 432.4 258.2 435 275.2 442 294.2 444 305.2 444 310.8 448 323.8 449 325.2 449 327.8 449.5 328.2 449.5 334.2 448.5 335.8 448 339.2 443 348.8 436.5 357.8 432.2 362.5 424.8 368.6 418.2 372.1 410.8 373.7"/>
<path fill="none" stroke="#141414" stroke-opacity="0.68" stroke-width="1.15" d="M404.2 309.5 401.2 309.5 397.8 307 395.5 304.2 395 303.2 395.5 302.2 398.2 299 402.2 298 405.8 298 408.2 298.5 411 301.2 409 304.8 404.2 309.5M404.8 347.5 399.8 347 393.2 345 389.8 342.5 385 337.8 383.6 334.8 383 327.8 383.5 327.2 383.5 324.8 385.5 320.8 391.8 315 394.2 313.5 395.8 313.5 397.8 312.5 406.2 311.9 411.2 313 414.8 314.5 417.8 316.5 421.5 320.8 423.5 324.8 424.5 328.8 423.5 334.2 421.5 338.2 417.8 342.5 412.8 345.5 404.8 347.5"/></g>
<rect x="143.3" y="34.0" width="603.5" height="578.5" fill="none" stroke="#1a1a1a" stroke-width="1.4"/>
<path d="M143.3 612.5H132.6M143.3 554.6H138.1M143.3 496.8H132.6M143.3 438.9H138.1M143.3 381.1H132.6M143.3 323.2H138.1M143.3 265.4H132.6M143.3 207.5H138.1M143.3 149.7H132.6M143.3 91.8H138.1M143.3 34.0H132.6M143.3 612.5V623.2M203.7 612.5V618.1M264.0 612.5V623.2M324.4 612.5V618.1M384.7 612.5V623.2M445.1 612.5V618.1M505.4 612.5V623.2M565.8 612.5V618.1M626.1 612.5V623.2M686.5 612.5V618.1M746.8 612.5V623.2" stroke="#333" stroke-width="1.4" fill="none"/>
<text transform="translate(123.0 618.8) scale(0.970 1)" font-size="22" text-anchor="end">300</text>
<text transform="translate(123.0 503.1) scale(0.970 1)" font-size="22" text-anchor="end">320</text>
<text transform="translate(123.0 387.4) scale(0.970 1)" font-size="22" text-anchor="end">340</text>
<text transform="translate(123.0 271.7) scale(0.970 1)" font-size="22" text-anchor="end">360</text>
<text transform="translate(123.0 156.0) scale(0.970 1)" font-size="22" text-anchor="end">380</text>
<text transform="translate(123.0 40.3) scale(0.970 1)" font-size="22" text-anchor="end">400</text>
<text transform="translate(142.8 648.0) scale(0.970 1)" font-size="22" text-anchor="middle">400</text>
<text transform="translate(263.5 648.0) scale(0.970 1)" font-size="22" text-anchor="middle">440</text>
<text transform="translate(384.2 648.0) scale(0.970 1)" font-size="22" text-anchor="middle">480</text>
<text transform="translate(504.9 648.0) scale(0.970 1)" font-size="22" text-anchor="middle">520</text>
<text transform="translate(625.6 648.0) scale(0.970 1)" font-size="22" text-anchor="middle">560</text>
<text transform="translate(746.3 648.0) scale(0.970 1)" font-size="22" text-anchor="middle">600</text>
<text x="445" y="690.8" font-size="27.3" text-anchor="middle">Emission wavelength (nm)</text>
<text transform="translate(70.4 323.5) rotate(-90)" font-size="27" text-anchor="middle">Excitation wavelength (nm)</text>
<rect x="775.0" y="589.71" width="47.4" height="12.09" fill="#0000ff"/>
<rect x="775.0" y="578.12" width="47.4" height="12.09" fill="#0008ff"/>
<rect x="775.0" y="566.54" width="47.4" height="12.09" fill="#001cff"/>
<rect x="775.0" y="554.95" width="47.4" height="12.09" fill="#0032ff"/>
<rect x="775.0" y="543.36" width="47.4" height="12.09" fill="#004eff"/>
<rect x="775.0" y="531.77" width="47.4" height="12.09" fill="#0066ff"/>
<rect x="775.0" y="520.19" width="47.4" height="12.09" fill="#007dff"/>
<rect x="775.0" y="508.60" width="47.4" height="12.09" fill="#0096ff"/>
<rect x="775.0" y="497.01" width="47.4" height="12.09" fill="#00aaff"/>
<rect x="775.0" y="485.42" width="47.4" height="12.09" fill="#00beff"/>
<rect x="775.0" y="473.84" width="47.4" height="12.09" fill="#00d2ff"/>
<rect x="775.0" y="462.25" width="47.4" height="12.09" fill="#00e8ff"/>
<rect x="775.0" y="450.66" width="47.4" height="12.09" fill="#00ffff"/>
<rect x="775.0" y="439.07" width="47.4" height="12.09" fill="#00ffe4"/>
<rect x="775.0" y="427.49" width="47.4" height="12.09" fill="#00ffc8"/>
<rect x="775.0" y="415.90" width="47.4" height="12.09" fill="#00ffac"/>
<rect x="775.0" y="404.31" width="47.4" height="12.09" fill="#00ff91"/>
<rect x="775.0" y="392.73" width="47.4" height="12.09" fill="#00ff76"/>
<rect x="775.0" y="381.14" width="47.4" height="12.09" fill="#00ff5a"/>
<rect x="775.0" y="369.55" width="47.4" height="12.09" fill="#00ff3e"/>
<rect x="775.0" y="357.96" width="47.4" height="12.09" fill="#00ff22"/>
<rect x="775.0" y="242.09" width="47.4" height="116.37" fill="#00ff00"/>
<rect x="775.0" y="230.50" width="47.4" height="12.09" fill="#6eff00"/>
<rect x="775.0" y="218.91" width="47.4" height="12.09" fill="#a0ff00"/>
<rect x="775.0" y="207.32" width="47.4" height="12.09" fill="#beff00"/>
<rect x="775.0" y="195.74" width="47.4" height="12.09" fill="#dcff00"/>
<rect x="775.0" y="184.15" width="47.4" height="12.09" fill="#ffff00"/>
<rect x="775.0" y="172.56" width="47.4" height="12.09" fill="#ffe100"/>
<rect x="775.0" y="160.98" width="47.4" height="12.09" fill="#ffc800"/>
<rect x="775.0" y="149.39" width="47.4" height="12.09" fill="#ffb400"/>
<rect x="775.0" y="137.80" width="47.4" height="12.09" fill="#ffa500"/>
<rect x="775.0" y="126.21" width="47.4" height="12.09" fill="#ff8c00"/>
<rect x="775.0" y="114.62" width="47.4" height="12.09" fill="#ff8000"/>
<rect x="775.0" y="103.04" width="47.4" height="12.09" fill="#ff6e00"/>
<rect x="775.0" y="91.45" width="47.4" height="12.09" fill="#ff5000"/>
<rect x="775.0" y="79.86" width="47.4" height="12.09" fill="#ff3c00"/>
<rect x="775.0" y="68.27" width="47.4" height="12.09" fill="#ff1e00"/>
<rect x="775.0" y="45.10" width="47.4" height="23.67" fill="#ff0000"/>
<rect x="775.0" y="34" width="47.4" height="11.1" fill="#fff"/>
<rect x="775.0" y="601.3" width="47.4" height="11.7" fill="#000"/>
<rect x="775.0" y="34" width="47.4" height="579" fill="none" stroke="#222" stroke-width="1.4"/>
<text x="837.8" y="607.5" font-size="19.4">0</text>
<text x="837.8" y="538.0" font-size="19.4">15000</text>
<text x="837.8" y="468.4" font-size="19.4">30000</text>
<text x="837.8" y="398.9" font-size="19.4">45000</text>
<text x="837.8" y="329.4" font-size="19.4">60000</text>
<text x="837.8" y="259.9" font-size="19.4">75000</text>
<text x="837.8" y="190.4" font-size="19.4">90000</text>
<text x="837.8" y="120.8" font-size="19.4">105000</text>
<text x="837.8" y="51.3" font-size="19.4">120000</text>
<path d="M822.4 601.3H828.7M822.4 531.8H828.7M822.4 462.2H828.7M822.4 392.7H828.7M822.4 323.2H828.7M822.4 253.7H828.7M822.4 184.2H828.7M822.4 114.6H828.7M822.4 45.1H828.7" stroke="#333" stroke-width="1.4"/>
<text x="775.5" y="655.5" font-size="26">RFU</text>
<text x="18" y="48.4" class="sf" font-weight="bold" font-size="50">a)</text>
<text x="15" y="786.3" class="sf" font-weight="bold" font-size="50">b)</text>
<polyline points="235.0,1240.0 357.9,1239.6 456.2,1239.8 603.7,1240.3 751.2,1241.0" fill="none" stroke="#0000ff" stroke-width="3.2" stroke-linejoin="round"/>
<polyline points="235.0,1237.5 357.9,1236.2 456.2,1236.3 554.6,1237.5 652.9,1238.8 751.2,1240.0" fill="none" stroke="#ff0000" stroke-width="3.2" stroke-linejoin="round"/>
<polyline points="235.0,1235.0 259.6,1233.8 308.8,1231.8 357.9,1230.7 407.1,1230.5 456.2,1231.0 505.4,1232.5 554.6,1234.0 603.7,1235.5 652.9,1237.0 702.0,1238.0 751.2,1238.8" fill="none" stroke="#00b900" stroke-width="3.2" stroke-linejoin="round"/>
<polyline points="235.0,1229.2 259.6,1224.9 284.2,1220.4 308.8,1216.1 333.3,1212.8 357.9,1210.5 382.5,1209.8 407.1,1209.0 431.7,1210.3 456.2,1209.8 480.8,1210.5 505.4,1211.6 530.0,1213.0 554.6,1214.8 579.1,1217.0 603.7,1219.1 628.3,1221.0 652.9,1223.1 677.5,1225.0 702.0,1226.9 726.6,1228.7 751.2,1230.5" fill="none" stroke="#c000f0" stroke-width="3.2" stroke-linejoin="round"/>
<polyline points="235.0,1224.9 259.6,1218.1 284.2,1210.5 308.8,1204.2 333.3,1199.7 357.9,1195.4 382.5,1193.4 407.1,1190.9 431.7,1192.1 456.2,1191.6 480.8,1192.1 505.4,1192.1 530.0,1194.7 554.6,1197.7 579.1,1201.0 603.7,1204.0 628.3,1207.3 652.9,1210.5 677.5,1213.6 702.0,1216.6 726.6,1219.9 751.2,1222.9" fill="none" stroke="#ff8000" stroke-width="3.2" stroke-linejoin="round"/>
<polyline points="235.0,1218.6 259.6,1210.5 284.2,1199.0 308.8,1190.1 333.3,1183.3 357.9,1177.8 382.5,1174.5 407.1,1172.0 431.7,1170.7 456.2,1170.7 480.8,1172.5 505.4,1172.7 530.0,1175.3 554.6,1178.8 579.1,1182.1 603.7,1186.4 628.3,1190.9 652.9,1195.9 677.5,1201.0 702.0,1204.7 726.6,1209.0 751.2,1213.6" fill="none" stroke="#000000" stroke-width="3.2" stroke-linejoin="round"/>
<polyline points="235.0,1208.5 259.6,1193.4 284.2,1177.0 308.8,1161.9 333.3,1150.0 357.9,1140.5 382.5,1133.7 407.1,1130.4 431.7,1126.1 456.2,1127.1 480.8,1122.8 505.4,1126.6 530.0,1130.4 554.6,1132.9 579.1,1138.5 603.7,1146.8 628.3,1153.6 652.9,1161.9 677.5,1169.5 702.0,1177.0 726.6,1183.3 751.2,1190.9" fill="none" stroke="#9a5a00" stroke-width="3.2" stroke-linejoin="round"/>
<polyline points="235.0,1182.0 259.6,1158.1 284.2,1127.4 308.8,1102.6 333.3,1083.0 357.9,1066.0 382.5,1056.2 407.1,1046.6 431.7,1042.1 456.2,1039.9 480.8,1039.5 505.4,1040.4 530.0,1047.7 554.6,1055.6 579.1,1061.8 603.7,1074.1 628.3,1087.9 652.9,1103.1 677.5,1112.5 702.0,1127.0 726.6,1139.3 751.2,1153.1" fill="none" stroke="#000078" stroke-width="3.2" stroke-linejoin="round"/>
<polyline points="235.0,1170.0 259.6,1137.0 284.2,1103.6 308.8,1067.8 333.3,1038.3 357.9,1016.0 382.5,1005.7 407.1,994.1 431.7,992.3 456.2,987.4 480.8,988.5 505.4,988.5 530.0,997.5 554.6,1008.0 579.1,1019.8 603.7,1033.2 628.3,1052.6 652.9,1066.7 677.5,1082.3 702.0,1101.3 726.6,1115.9 751.2,1130.4" fill="none" stroke="#690046" stroke-width="3.2" stroke-linejoin="round"/>
<polyline points="235.0,1123.2 259.6,1072.3 284.2,1009.8 308.8,959.5 333.3,924.4 357.9,892.5 382.5,873.1 407.1,869.5 431.7,865.7 456.2,869.0 480.8,872.0 505.4,878.4 530.0,892.5 554.6,903.2 579.1,923.8 603.7,943.9 628.3,964.4 652.9,994.1 677.5,1017.6 702.0,1038.8 726.6,1058.9 751.2,1083.5" fill="none" stroke="#b40000" stroke-width="3.2" stroke-linejoin="round"/>
<path d="M210.4 865V1242.8M202.9 1242.8H777.6" stroke="#000" stroke-width="3.6" fill="none"/>
<path d="M210.4 1117.0H202.4M210.4 991.6H202.4M210.4 866.2H202.4M259.5 1242.8V1249.9M357.8 1242.8V1249.9M456.1 1242.8V1249.9M554.5 1242.8V1249.9M652.8 1242.8V1249.9M751.1 1242.8V1249.9" stroke="#000" stroke-width="3" fill="none"/>
<text transform="translate(185.0 876.8) scale(0.945 1)" font-size="29.5" text-anchor="end" font-weight="bold">1.5×10</text><text transform="translate(190.3 867.9) scale(0.945 1)" font-size="18.5" text-anchor="start" font-weight="bold">5</text>
<text transform="translate(185.0 1002.2) scale(0.945 1)" font-size="29.5" text-anchor="end" font-weight="bold">1×10</text><text transform="translate(190.3 993.3) scale(0.945 1)" font-size="18.5" text-anchor="start" font-weight="bold">5</text>
<text transform="translate(185.0 1127.6) scale(0.945 1)" font-size="29.5" text-anchor="end" font-weight="bold">5×10</text><text transform="translate(190.3 1118.7) scale(0.945 1)" font-size="18.5" text-anchor="start" font-weight="bold">4</text>
<text transform="translate(195.6 1253.5) scale(0.945 1)" font-size="29.5" text-anchor="end" font-weight="bold">0</text>
<text transform="translate(258.6 1280.4) scale(0.945 1)" font-size="29.5" text-anchor="middle" font-weight="bold">420</text>
<text transform="translate(356.9 1280.4) scale(0.945 1)" font-size="29.5" text-anchor="middle" font-weight="bold">440</text>
<text transform="translate(455.2 1280.4) scale(0.945 1)" font-size="29.5" text-anchor="middle" font-weight="bold">460</text>
<text transform="translate(553.6 1280.4) scale(0.945 1)" font-size="29.5" text-anchor="middle" font-weight="bold">480</text>
<text transform="translate(651.9 1280.4) scale(0.945 1)" font-size="29.5" text-anchor="middle" font-weight="bold">500</text>
<text transform="translate(750.2 1280.4) scale(0.945 1)" font-size="29.5" text-anchor="middle" font-weight="bold">520</text>
<text x="493.4" y="1324.5" font-size="34.8" text-anchor="middle">emission spectra (nm)</text>
<text transform="translate(71.9 1047.3) rotate(-90)" font-size="35.3" text-anchor="middle">RFU</text>
<text x="796" y="858" font-size="28.3">[styrene]</text>
<path d="M788.8 920.6H813" stroke="#0000ff" stroke-width="3.4"/>
<text x="827" y="929.0" font-size="24.4">0 mM</text>
<path d="M788.8 959.3H813" stroke="#ff0000" stroke-width="3.4"/>
<text x="827" y="967.7" font-size="24.4">0.005 mM</text>
<path d="M788.8 994.0H813" stroke="#00b900" stroke-width="3.4"/>
<text x="827" y="1002.4" font-size="24.4">0.01 mM</text>
<path d="M788.8 1030.0H813" stroke="#c000f0" stroke-width="3.4"/>
<text x="827" y="1038.4" font-size="24.4">0.025 mM</text>
<path d="M788.8 1070.0H813" stroke="#ff8000" stroke-width="3.4"/>
<text x="827" y="1078.4" font-size="24.4">0.033 mM</text>
<path d="M788.8 1106.0H813" stroke="#000000" stroke-width="3.4"/>
<text x="827" y="1114.4" font-size="24.4">0.05 mM</text>
<path d="M788.8 1141.1H813" stroke="#9a5a00" stroke-width="3.4"/>
<text x="827" y="1149.5" font-size="24.4">0.075 mM</text>
<path d="M788.8 1170.6H813" stroke="#000078" stroke-width="3.4"/>
<text x="827" y="1179.0" font-size="24.4">0.1 mM</text>
<path d="M788.8 1200.0H813" stroke="#b40000" stroke-width="3.4"/>
<text x="827" y="1208.4" font-size="24.4">0.15 mM</text>
<path d="M788.8 1234.5H813" stroke="#690046" stroke-width="3.4"/>
<text x="827" y="1242.9" font-size="24.4">0.125 mM</text>
<text x="1027" y="786.7" class="sf" font-weight="bold" font-size="50">c)</text>
<path d="M1204.6 796.8V1241.9M1197 1241.9H1871.7" stroke="#000" stroke-width="3.6" fill="none"/>
<path d="M1204.6 1241.3H1197.5M1204.6 1103.0H1197.5M1204.6 964.6H1197.5M1204.6 826.3H1197.5M1204.6 1241.9V1249M1425.3 1241.9V1249M1646.1 1241.9V1249M1866.8 1241.9V1249" stroke="#000" stroke-width="3" fill="none"/>
<text transform="translate(1179.3 835.8) scale(1.000 1)" font-size="28.8" text-anchor="end" font-weight="bold">1.5×10</text><text transform="translate(1184.3 827.3) scale(1.000 1)" font-size="20" text-anchor="start" font-weight="bold">5</text>
<text transform="translate(1179.3 974.2) scale(1.000 1)" font-size="28.8" text-anchor="end" font-weight="bold">1×10</text><text transform="translate(1184.3 965.7) scale(1.000 1)" font-size="20" text-anchor="start" font-weight="bold">5</text>
<text transform="translate(1179.3 1112.7) scale(1.000 1)" font-size="28.8" text-anchor="end" font-weight="bold">5×10</text><text transform="translate(1184.3 1104.2) scale(1.000 1)" font-size="20" text-anchor="start" font-weight="bold">4</text>
<text transform="translate(1190.2 1251.4) scale(1.000 1)" font-size="28.8" text-anchor="end" font-weight="bold">0</text>
<text transform="translate(1204.3 1278.6) scale(0.990 1)" font-size="28.8" text-anchor="middle" font-weight="bold">0.00</text>
<text transform="translate(1425.0 1278.6) scale(0.990 1)" font-size="28.8" text-anchor="middle" font-weight="bold">0.05</text>
<text transform="translate(1645.8 1278.6) scale(0.990 1)" font-size="28.8" text-anchor="middle" font-weight="bold">0.10</text>
<text transform="translate(1866.5 1278.6) scale(0.990 1)" font-size="28.8" text-anchor="middle" font-weight="bold">0.15</text>
<text x="1537.3" y="1323.8" font-size="35.2" text-anchor="middle">styrene (mM)</text>
<text transform="translate(1074 1012) rotate(-90)" font-size="35.5" text-anchor="middle">RFU</text>
<path d="M1234.4 1241.5L1864.6 878.5" stroke="#000" stroke-width="3.9"/>
<circle cx="1204.6" cy="1236.0" r="7" fill="#000"/>
<circle cx="1226.7" cy="1234.7" r="7" fill="#000"/>
<circle cx="1248.8" cy="1228.0" r="7" fill="#000"/>
<circle cx="1315.0" cy="1201.2" r="7" fill="#000"/>
<circle cx="1350.3" cy="1180.5" r="7" fill="#000"/>
<circle cx="1425.3" cy="1146.2" r="7" fill="#000"/>
<circle cx="1535.7" cy="1089.0" r="7" fill="#000"/>
<circle cx="1646.1" cy="1009.8" r="7" fill="#000"/>
<circle cx="1756.5" cy="941.8" r="7" fill="#000"/>
<circle cx="1866.8" cy="855.5" r="7" fill="#000"/>
<path d="M1350.3 1172.0V1189.0M1344.3 1172.0H1356.3M1344.3 1189.0H1356.3M1425.3 1123.0V1169.5M1419.3 1123.0H1431.3M1419.3 1169.5H1431.3M1535.7 1054.6V1123.8M1529.7 1054.6H1541.7M1529.7 1123.8H1541.7M1646.1 998.0V1022.0M1640.1 998.0H1652.1M1640.1 1022.0H1652.1M1756.5 916.3V968.3M1750.5 916.3H1762.5M1750.5 968.3H1762.5M1866.8 817.7V892.4M1860.8 817.7H1872.8M1860.8 892.4H1872.8" stroke="#000" stroke-width="3.9" fill="none"/>
<text x="1068.7" y="159.7" class="sf" font-size="38.5" font-weight="bold" text-anchor="middle">Entry</text>
<text x="1227.5" y="136.6" class="sf" font-size="38.5" font-weight="bold" text-anchor="middle">[3]</text>
<text x="1227.5" y="181.2" class="sf" font-size="38.5" font-weight="bold" text-anchor="middle">(mM)</text>
<text x="1383.2" y="136.6" class="sf" font-size="38.5" font-weight="bold" text-anchor="middle">[4]</text>
<text x="1383.2" y="181.2" class="sf" font-size="38.5" font-weight="bold" text-anchor="middle">(mM)</text>
<text x="1537.9" y="136.6" class="sf" font-size="38.5" font-weight="bold" text-anchor="middle">λ<tspan font-size="27" dy="8">ex</tspan><tspan font-size="27" dy="-22">max</tspan></text>
<text x="1539.9" y="181.2" class="sf" font-size="38.5" font-weight="bold" text-anchor="middle">(nm)</text>
<text x="1694.2" y="136.6" class="sf" font-size="38.5" font-weight="bold" text-anchor="middle">λ<tspan font-size="27" dy="8">em</tspan><tspan font-size="27" dy="-22">max</tspan></text>
<text x="1696.2" y="181.2" class="sf" font-size="38.5" font-weight="bold" text-anchor="middle">(nm)</text>
<text x="1862.5" y="136.6" class="sf" font-size="38.5" font-weight="bold" text-anchor="middle">FI</text>
<text x="1862.5" y="181.2" class="sf" font-size="38.5" font-weight="bold" text-anchor="middle">(fold)<tspan font-size="25" font-weight="normal" dy="-15">[<tspan font-style="italic">a</tspan>]</tspan></text>
<text x="1068.7" y="231.9" class="sf" font-size="38.5" text-anchor="middle">1</text>
<text x="1227.5" y="231.9" class="sf" font-size="38.5" text-anchor="middle">1</text>
<text x="1383.2" y="231.9" class="sf" font-size="38.5" text-anchor="middle">1</text>
<text x="1539.9" y="231.9" class="sf" font-size="38.5" text-anchor="middle">355</text>
<text x="1696.2" y="231.9" class="sf" font-size="38.5" text-anchor="middle">480</text>
<text x="1862.5" y="231.9" class="sf" font-size="38.5" text-anchor="middle">402</text>
<text x="1068.7" y="278.5" class="sf" font-size="38.5" text-anchor="middle">2</text>
<text x="1227.5" y="278.5" class="sf" font-size="38.5" text-anchor="middle">0.5</text>
<text x="1383.2" y="278.5" class="sf" font-size="38.5" text-anchor="middle">0.5</text>
<text x="1539.9" y="278.5" class="sf" font-size="38.5" text-anchor="middle">350</text>
<text x="1696.2" y="278.5" class="sf" font-size="38.5" text-anchor="middle">490</text>
<text x="1862.5" y="278.5" class="sf" font-size="38.5" text-anchor="middle">432</text>
<text x="1068.7" y="325.1" class="sf" font-size="38.5" text-anchor="middle">3</text>
<text x="1227.5" y="325.1" class="sf" font-size="38.5" text-anchor="middle">0.15</text>
<text x="1383.2" y="325.1" class="sf" font-size="38.5" text-anchor="middle">0.15</text>
<text x="1539.9" y="325.1" class="sf" font-size="38.5" text-anchor="middle">362</text>
<text x="1696.2" y="325.1" class="sf" font-size="38.5" text-anchor="middle">480</text>
<text x="1862.5" y="325.1" class="sf" font-size="38.5" text-anchor="middle">38</text>
<text x="1068.7" y="371.7" class="sf" font-size="38.5" text-anchor="middle">4</text>
<text x="1227.5" y="371.7" class="sf" font-size="38.5" text-anchor="middle">0.025</text>
<text x="1383.2" y="371.7" class="sf" font-size="38.5" text-anchor="middle">0.025</text>
<text x="1539.9" y="371.7" class="sf" font-size="38.5" text-anchor="middle">362</text>
<text x="1696.2" y="371.7" class="sf" font-size="38.5" text-anchor="middle">460</text>
<text x="1862.5" y="371.7" class="sf" font-size="38.5" text-anchor="middle">13</text>
</svg>

<div class="tb" style="left:989px;top:192.5px;width:964px;height:2.4px;background:#000"></div>
<div class="tb" style="left:989px;top:382.4px;width:964px;height:2.4px;background:#000"></div>

<div class="fn j" style="top:409.1px"><span class="sup">[<i>a</i>]</span> <b>FI=fluorescence increase fold</b> - determined from the</div>
<div class="fn j" style="top:454.0px"><i>ratio</i> of signal intensities at the <b>λ<span class="sub">em</span><span class="sup2">max</span></b> of the sample</div>
<div class="fn j" style="top:497.5px">(<i>Entries 1-4)</i> and its negative control, consisting from the</div>
<div class="fn j" style="top:542.2px">UV-irradiated <b>4</b> (at the corresponding concentrations,</div>
<div class="fn" style="top:586.7px;letter-spacing:0.2px"><i>Entries-1-4</i>), in absence of reaction partner <b>3</b>.</div>

</body></html>
